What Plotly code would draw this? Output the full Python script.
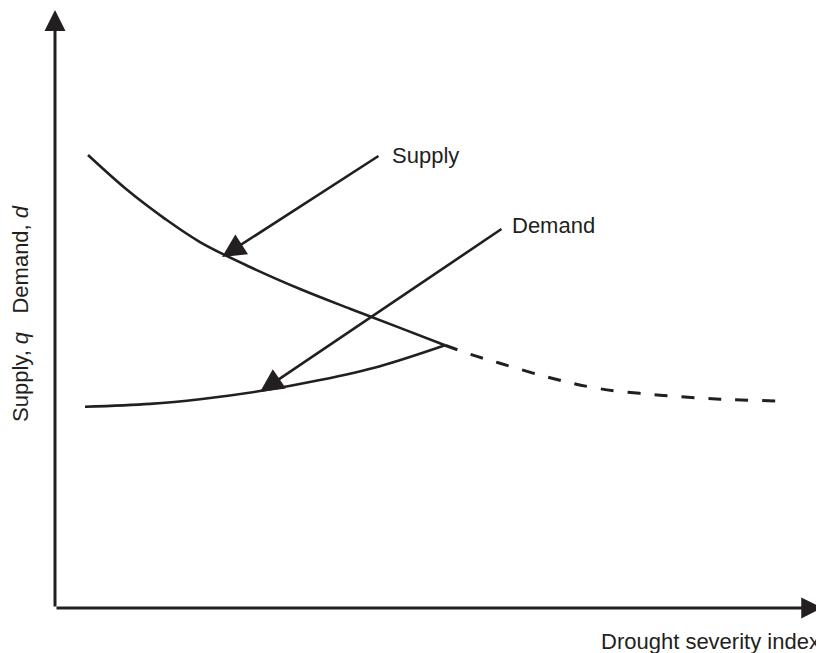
import plotly.graph_objects as go

# Data (drought severity index vs supply / demand, arbitrary units)
supply_x = [0.44, 0.96, 1.467, 1.933, 2.6, 3.267, 3.933, 4.6, 5.2]
supply_y = [7.81, 7.21, 6.71, 6.31, 5.88, 5.50, 5.16, 4.83, 4.53]
supply_ext_x = [5.2, 5.573, 5.933, 6.6, 7.267, 8.067, 8.867, 9.64]
supply_ext_y = [4.53, 4.36, 4.22, 3.97, 3.78, 3.67, 3.60, 3.57]
demand_x = [0.4, 1.267, 1.933, 2.733, 3.533, 4.333, 5.2]
demand_y = [3.47, 3.52, 3.60, 3.74, 3.93, 4.17, 4.53]

labels = ["Supply", "Demand"]
label_pos = [(4.467, 7.81), (6.067, 6.603)]
arrow_tails = [(4.333, 7.81), (5.973, 6.552)]
arrow_heads = [(2.227, 6.052), (2.733, 3.724)]

x_title = "Drought severity index"
y_title = "Supply, <i>q</i>   Demand, <i>d</i>"

INK = "#231f20"
FONT = "Liberation Sans, Arial, sans-serif"
W, H = 816, 645  # page body has an 8px margin

fig = go.Figure()
fig.add_trace(go.Scatter(x=supply_x, y=supply_y, mode="lines",
                         line=dict(color=INK, width=2.6, shape="spline", smoothing=1.0),
                         hoverinfo="skip", showlegend=False))
fig.add_trace(go.Scatter(x=supply_ext_x, y=supply_ext_y, mode="lines",
                         line=dict(color=INK, width=3, shape="spline", dash="13px,14px"),
                         hoverinfo="skip", showlegend=False))
fig.add_trace(go.Scatter(x=demand_x, y=demand_y, mode="lines",
                         line=dict(color=INK, width=2.6, shape="spline", smoothing=1.0),
                         hoverinfo="skip", showlegend=False))

ann = []
# axes with arrow heads
ann.append(dict(x=0, y=10.31, ax=0, ay=0, xref="x", yref="y", axref="x", ayref="y",
                text="", showarrow=True, arrowhead=2, arrowsize=1.4, arrowwidth=3,
                arrowcolor=INK, standoff=0))
ann.append(dict(x=10.23, y=0, ax=0, ay=0, xref="x", yref="y", axref="x", ayref="y",
                text="", showarrow=True, arrowhead=2, arrowsize=1.4, arrowwidth=3,
                arrowcolor=INK, standoff=0))
for (tx, ty), (hx, hy) in zip(arrow_tails, arrow_heads):
    ann.append(dict(x=hx, y=hy, ax=tx, ay=ty, xref="x", yref="y", axref="x", ayref="y",
                    text="", showarrow=True, arrowhead=2, arrowsize=1.8, arrowwidth=2.6,
                    arrowcolor=INK, standoff=0))
for lab, (lx, ly) in zip(labels, label_pos):
    ann.append(dict(x=lx, y=ly, xref="x", yref="y", text=lab, showarrow=False,
                    xanchor="left", yanchor="middle",
                    font=dict(family=FONT, size=22, color=INK)))
ann.append(dict(x=814 / W, y=1 - 633 / H, xref="paper", yref="paper", text=x_title,
                showarrow=False, xanchor="right", yanchor="middle",
                font=dict(family=FONT, size=22, color=INK)))
ann.append(dict(x=12 / W, y=1 - 306 / H, xref="paper", yref="paper", text=y_title,
                showarrow=False, textangle=-90, xanchor="center", yanchor="middle",
                font=dict(family=FONT, size=22, color=INK)))

fig.update_layout(
    width=W, height=H,
    margin=dict(l=0, r=0, t=0, b=0),
    paper_bgcolor="white", plot_bgcolor="white",
    xaxis=dict(range=[-0.6267, 10.253], visible=False, fixedrange=True),
    yaxis=dict(range=[-0.776, 10.345], visible=False, fixedrange=True),
    annotations=ann,
    showlegend=False,
)
fig.write_html("out.html", config={"displayModeBar": False})
